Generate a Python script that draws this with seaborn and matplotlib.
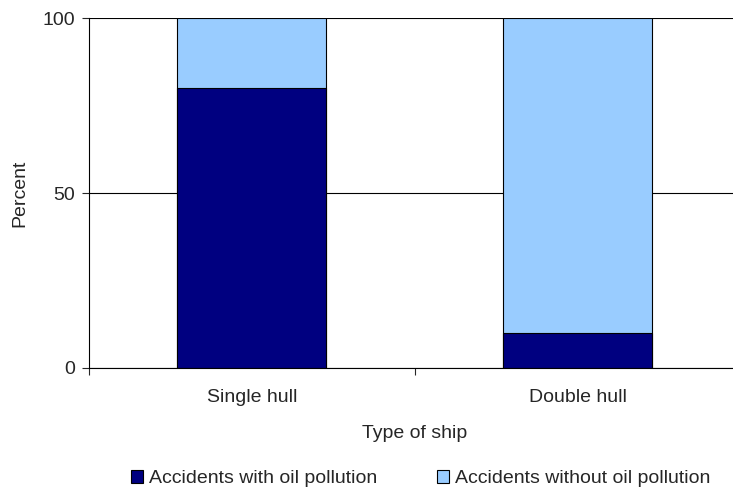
import numpy as np
import pandas as pd
import matplotlib
matplotlib.use("Agg")
import matplotlib.pyplot as plt
import seaborn as sns

ship_types = ["Single hull", "Double hull"]
with_oil = [80, 10]
without_oil = [20, 90]

sns.set_theme(style="white")
plt.rcParams['font.family'] = ['Liberation Sans', 'DejaVu Sans']

df = pd.DataFrame({"ship": ship_types, "with": with_oil, "without": without_oil})
df["total"] = df["with"] + df["without"]

fig = plt.figure(figsize=(7.33, 4.9), dpi=100)
ax = fig.add_axes([0.1214, 0.249, 0.8895, 0.714])

# stacked: draw total first, then the lower segment over it
sns.barplot(data=df, x="ship", y="total", color="#99CCFF", width=0.457,
            edgecolor="black", linewidth=0.8, saturation=1, ax=ax,
            label="Accidents without oil pollution")
sns.barplot(data=df, x="ship", y="with", color="#000080", width=0.457,
            edgecolor="black", linewidth=0.8, saturation=1, ax=ax,
            label="Accidents with oil pollution")
handles, labels = ax.get_legend_handles_labels()
if ax.get_legend() is not None:
    ax.get_legend().remove()

ax.set_xlim(-0.5, 1.5)
ax.set_ylim(0, 100)
ax.set_yticks([0, 50, 100])
ax.yaxis.grid(True, color="black", linewidth=0.8)
ax.set_axisbelow(True)
for s in ["top", "right"]:
    ax.spines[s].set_visible(False)
for s in ["left", "bottom"]:
    ax.spines[s].set_color("black")
    ax.spines[s].set_linewidth(0.8)

fs = 14
ax.set_xticks([-0.5, 0.5, 1.5], minor=True)
ax.tick_params(axis="x", which="major", length=0, pad=15, labelsize=fs)
ax.tick_params(axis="x", which="minor", length=5, width=0.8, direction="out", bottom=True)
ax.tick_params(axis="y", length=5, width=0.8, direction="out", left=True, labelsize=fs, pad=5)

ax.set_xlabel("Type of ship", fontsize=fs, labelpad=14)
ax.set_ylabel("Percent", fontsize=fs, labelpad=10)

order = [1, 0]
fig.legend([handles[i] for i in order], [labels[i] for i in order],
           loc="center", bbox_to_anchor=(0.574, 0.023), ncol=2, frameon=False,
           fontsize=fs, handlelength=0.6, handleheight=0.6, handletextpad=0.3,
           columnspacing=3.1)

fig.savefig("out.png", dpi=100)
